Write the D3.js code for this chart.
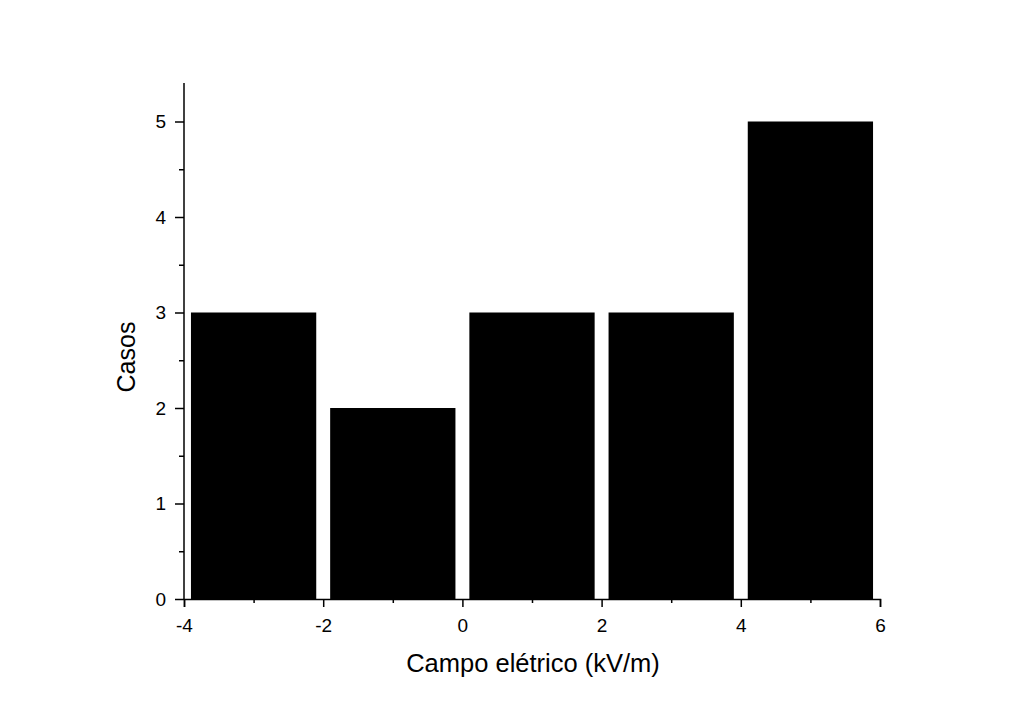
<!DOCTYPE html>
<html><head><meta charset="utf-8">
<script src="https://cdn.jsdelivr.net/npm/d3@7"></script>
<style>
html,body{margin:0;padding:0;background:#fff;}
text{font-family:"Liberation Sans",Arial,sans-serif;fill:#000;}
</style></head>
<body>
<svg id="chart" width="1024" height="719"></svg>
<script>
const binCenters = [-3, -1, 1, 3, 5];
const counts = [3, 2, 3, 3, 5];
const xTicks = [-4, -2, 0, 2, 4, 6];
const yTicks = [0, 1, 2, 3, 4, 5];
const binWidth = 2;
const barFraction = 0.9;

const svg = d3.select("#chart");
const x = d3.scaleLinear().domain([-4, 6]).range([184, 880]);
const y = d3.scaleLinear().domain([0, 5]).range([599, 121.5]);
const yTop = y.invert(83);

svg.append("g").selectAll("rect").data(binCenters).join("rect")
  .attr("x", (d) => x(d - binWidth * barFraction / 2))
  .attr("width", (d) => x(d + binWidth * barFraction / 2) - x(d - binWidth * barFraction / 2))
  .attr("y", (d, i) => y(counts[i]))
  .attr("height", (d, i) => y(0) - y(counts[i]))
  .attr("fill", "#000");

// x axis
const xAxis = d3.axisBottom(x).tickValues(xTicks).tickSize(8).tickPadding(12).tickFormat(d3.format("d"));
const gx = svg.append("g").attr("transform", `translate(0,${y(0)})`).call(xAxis);
gx.attr("font-size", null);
gx.select(".domain").attr("stroke-width", 1.5);
gx.selectAll(".tick line").attr("stroke-width", 1.5);
gx.selectAll("text").style("font-size", "19px").text(d => d < 0 ? "-" + Math.abs(d) : d);
const xMinor = d3.axisBottom(x).tickValues(binCenters).tickSize(4).tickFormat("");
const gxm = svg.append("g").attr("transform", `translate(0,${y(0)})`).call(xMinor);
gxm.select(".domain").remove();
gxm.selectAll(".tick line").attr("stroke-width", 1.5);

// y axis
const yAxis = d3.axisLeft(y).tickValues(yTicks).tickSize(9).tickPadding(9).tickFormat(d3.format("d"));
const gy = svg.append("g").attr("transform", `translate(${x(-4)},0)`).call(yAxis);
gy.attr("font-size", null);
gy.select(".domain").attr("d", `M0,${y(0)}V${y(yTop)}`).attr("stroke-width", 1.5);
gy.selectAll(".tick line").attr("stroke-width", 1.5);
gy.selectAll("text").style("font-size", "19px");
const yMinorVals = [0.5, 1.5, 2.5, 3.5, 4.5];
const yMinor = d3.axisLeft(y).tickValues(yMinorVals).tickSize(5).tickFormat("");
const gym = svg.append("g").attr("transform", `translate(${x(-4)},0)`).call(yMinor);
gym.select(".domain").remove();
gym.selectAll(".tick line").attr("stroke-width", 1.5);

svg.append("text").attr("x", 533).attr("y", 672).attr("text-anchor", "middle")
  .style("font-size", "25.5px").text("Campo elétrico (kV/m)");
svg.append("text").attr("transform", "translate(135,357) rotate(-90)").attr("text-anchor", "middle")
  .style("font-size", "25px").text("Casos");
</script>
</body></html>
